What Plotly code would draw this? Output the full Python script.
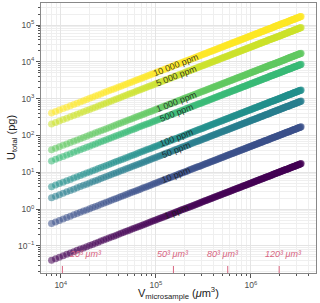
import numpy as np
import plotly.graph_objects as go
from plotly.colors import sample_colorscale

# ---- data ----
conc_ppm = [1, 10, 50, 100, 500, 1000, 5000, 10000]
conc_labels = ["1 ppm", "10 ppm", "50 ppm", "100 ppm", "500 ppm",
               "1 000 ppm", "5 000 ppm", "10 000 ppm"]
side_um = np.linspace(20, 150, 200)          # cube side length of microsample (µm)
density_g_cm3 = 5.1
label_volume_um3 = 1.63e5                    # where the ppm labels sit along the lines

size_marks = ["20³ μm³", "50³ μm³", "80³ μm³", "120³ μm³"]
size_tick_volume = [1.04e4, 1.53e5, 5.7e5, 1.98e6]
size_text_volume = [1.80e4, 1.53e5, 5.07e5, 2.2e6]

x_tick_exp = [4, 5, 6]
y_tick_exp = [-1, 0, 1, 2, 3, 4, 5]

volume_um3 = side_um ** 3

W, H = 320, 303
ML, MR, MT, MB = 41, 4, 3, 30
x_range = [3.792, 6.684]
y_range = [-1.736, 5.6]
FONT = "Liberation Sans, Arial, sans-serif"

colors = sample_colorscale("Viridis", [np.log10(c) / np.log10(max(conc_ppm)) for c in conc_ppm])

fig = go.Figure()
for c, col in zip(conc_ppm, colors):
    u = density_g_cm3 * volume_um3 * c * 1e-6
    fig.add_trace(go.Scatter(
        x=volume_um3, y=u, mode="markers",
        marker=dict(size=7, color=col, opacity=0.55, line=dict(width=0)),
        showlegend=False, hoverinfo="skip"))

# slope angle in screen pixels
pw = W - ML - MR
ph = H - MT - MB
px_per_dec_x = pw / (x_range[1] - x_range[0])
px_per_dec_y = ph / (y_range[1] - y_range[0])
angle = np.degrees(np.arctan(px_per_dec_y / px_per_dec_x))

for c, lab in zip(conc_ppm, conc_labels):
    u = density_g_cm3 * label_volume_um3 * c * 1e-6
    fig.add_annotation(x=np.log10(label_volume_um3), y=np.log10(u), text=lab,
                       showarrow=False, textangle=-angle,
                       font=dict(size=9, color="rgba(25,25,25,0.85)", family=FONT))

red = "#D8647F"
for tv, xv, lab in zip(size_tick_volume, size_text_volume, size_marks):
    fig.add_shape(type="line", xref="x", yref="paper",
                  x0=tv, x1=tv, y0=0, y1=7 / ph,
                  line=dict(color=red, width=1))
    fig.add_annotation(x=np.log10(xv), yref="paper", y=12.5 / ph,
                       text="<i>" + lab + "</i>", showarrow=False,
                       font=dict(size=9, color=red, family=FONT))

# axis titles
fig.add_annotation(xref="paper", yref="paper", x=0.5, y=-19.5 / ph,
                   text="V<sub>microsample</sub> (<i>μ</i>m<sup>3</sup>)",
                   showarrow=False, xanchor="center", yanchor="middle",
                   font=dict(size=11, color="#1a1a1a", family=FONT))
fig.add_annotation(xref="paper", yref="paper", x=-29 / pw, y=0.5,
                   text="U<sub>total</sub> (pg)", textangle=-90,
                   showarrow=False, xanchor="center", yanchor="middle",
                   font=dict(size=11, color="#1a1a1a", family=FONT))

def pow_label(e):
    return "10<sup>" + ("−" + str(-e) if e < 0 else str(e)) + "</sup>"

axis_common = dict(
    type="log", showline=True, linecolor="#888888", linewidth=1, mirror=True,
    ticks="outside", ticklen=4, tickcolor="#555555", tickwidth=1,
    showgrid=True, gridcolor="#E4E4E4", gridwidth=0.8,
    tickfont=dict(size=8.5, color="#4D4D4D", family=FONT),
    minor=dict(dtick="D1", showgrid=True, gridcolor="#EFEFEF", gridwidth=0.6,
               ticks="outside", ticklen=2, tickcolor="#555555"),
    zeroline=False, automargin=False,
)

fig.update_xaxes(**axis_common, range=x_range,
                 tickvals=[10.0 ** e for e in x_tick_exp],
                 ticktext=[pow_label(e) for e in x_tick_exp])
fig.update_yaxes(**axis_common, range=y_range,
                 tickvals=[10.0 ** e for e in y_tick_exp],
                 ticktext=[pow_label(e) for e in y_tick_exp])

fig.update_layout(
    width=W, height=H, autosize=False,
    margin=dict(l=ML, r=MR, t=MT, b=MB),
    paper_bgcolor="white", plot_bgcolor="white",
    font=dict(family=FONT),
)

fig.write_html("out.html", config={"displayModeBar": False},
               post_script="document.body.style.margin='0px';document.body.style.overflow='hidden';")
